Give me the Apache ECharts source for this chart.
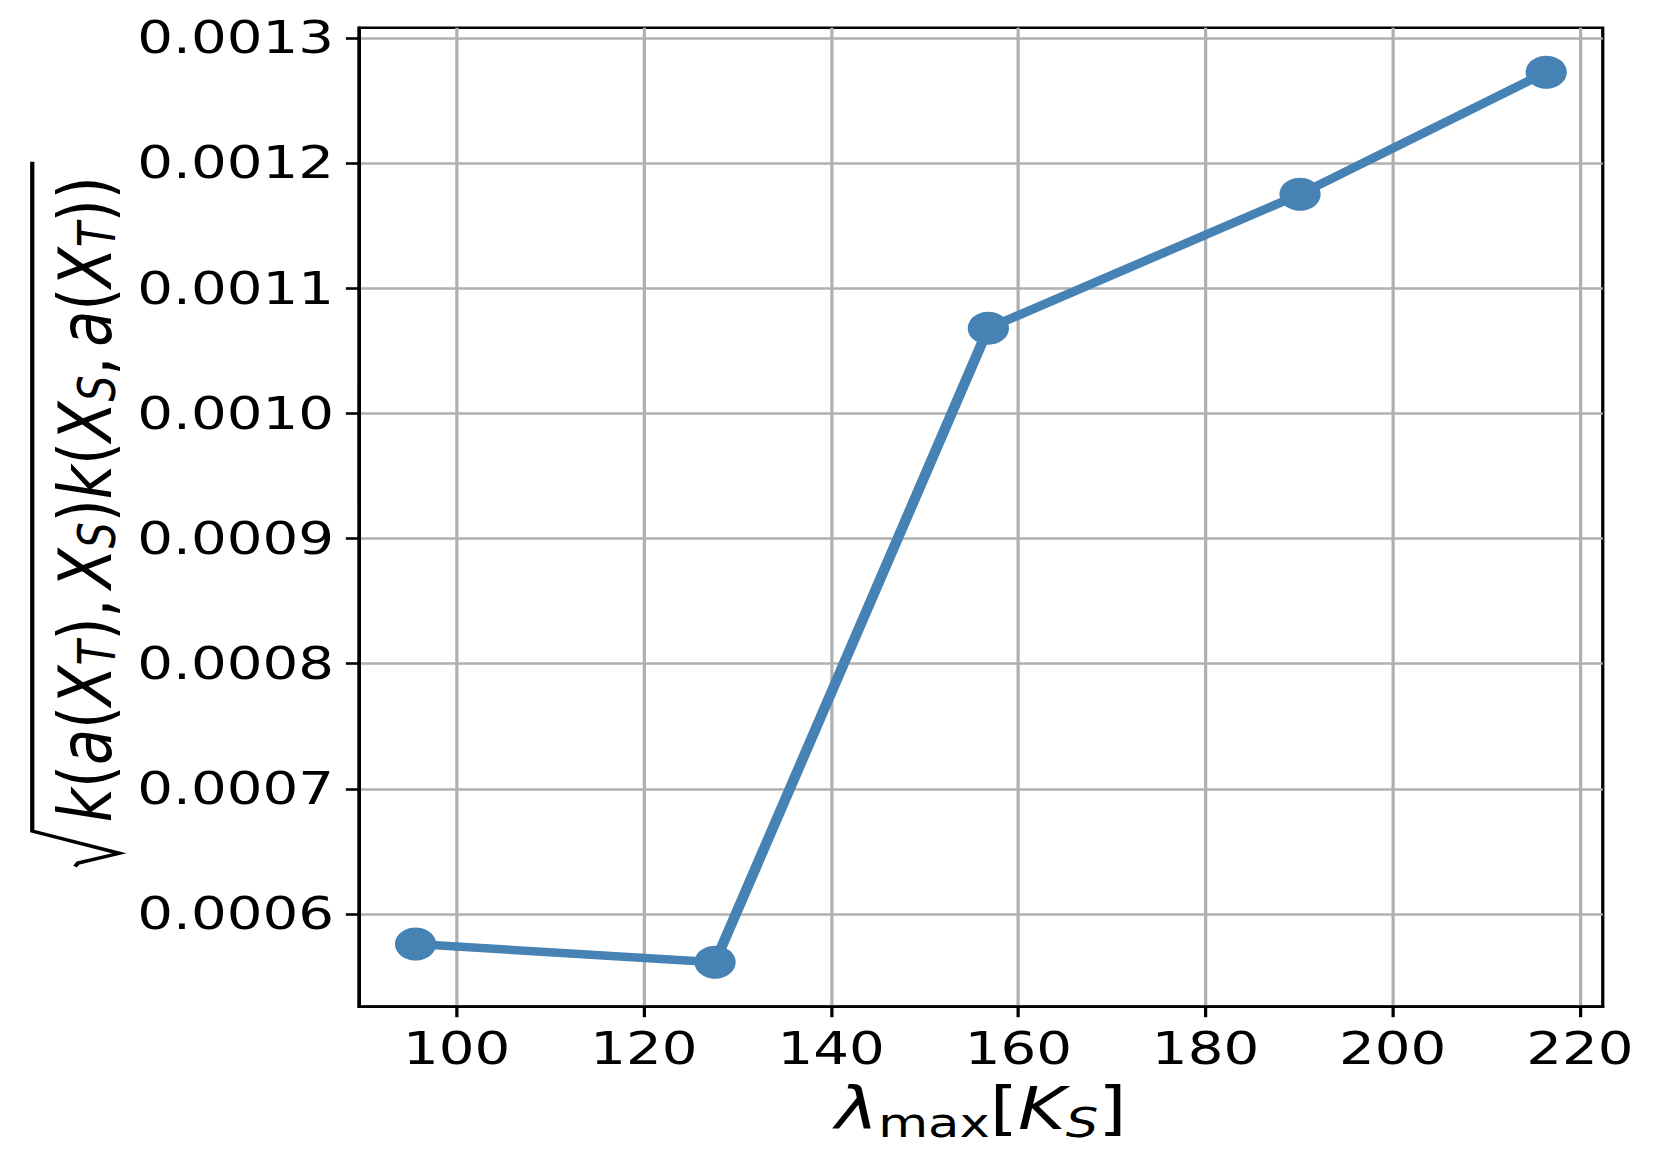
<!DOCTYPE html>
<html>
<head>
<meta charset="utf-8">
<script src="https://cdn.jsdelivr.net/npm/echarts@6/dist/echarts.min.js"></script>
<style>
html,body{margin:0;padding:0;background:#fff;overflow:hidden}
#wrap{width:1660px;height:1162px;overflow:hidden;background:#fff}
#main{width:1328px;height:1162px;transform:scaleX(1.25);transform-origin:0 0}
</style>
</head>
<body>
<div id="wrap"><div id="main"></div></div>
<script>
// data
const lambdaMax = [95.6, 127.6, 156.8, 190.1, 216.4];
const kernelValue = [0.000576, 0.0005615, 0.001068, 0.001175, 0.0012725];
const xTicks = [100, 120, 140, 160, 180, 200, 220];
const yTicks = [0.0006, 0.0007, 0.0008, 0.0009, 0.0010, 0.0011, 0.0012, 0.0013];

const seriesData = lambdaMax.map((x, i) => [x, kernelValue[i]]);
function padExtent(arr) {
  const lo = Math.min.apply(null, arr), hi = Math.max.apply(null, arr);
  const m = (hi - lo) * 0.05;
  return [lo - m, hi + m];
}
const xExt = padExtent(lambdaMax);
const yExt = padExtent(kernelValue);

const FONT = 'DejaVu Sans';
const main = {fontFamily: FONT, fontSize: 58, lineHeight: 70, color: '#000'};
const mainI = Object.assign({}, main, {fontStyle: 'italic'});
const sub = {fontFamily: FONT, fontSize: 41, lineHeight: 41, color: '#000', padding: [28, 0, 0, 0]};
const subI = Object.assign({}, sub, {fontStyle: 'italic'});

const ymain = {fontFamily: FONT, fontSize: 59, lineHeight: 72, color: '#000'};
const ymainI = Object.assign({}, ymain, {fontStyle: 'italic'});
const ysubI = {fontFamily: FONT, fontSize: 41, lineHeight: 41, color: '#000', fontStyle: 'italic', padding: [20, 0, 0, 0]};

const axisCol = '#000';
const gridCol = '#b0b0b0';

const chart = echarts.init(document.getElementById('main'), null, {renderer: 'svg'});
chart.setOption({
  backgroundColor: '#fff',
  animation: false,
  grid: {
    left: 287.2, right: 45.8, top: 27.7, bottom: 155.3,
    containLabel: false, outerBoundsMode: 'none',
    show: true, borderColor: axisCol, borderWidth: 2.6, backgroundColor: '#fff'
  },
  xAxis: {
    type: 'value', min: xExt[0], max: xExt[1],
    name: '{l|λ}{m|max}{b|[}{k|K}{s|S}{b|]}',
    nameLocation: 'middle', nameGap: 67, nameMoveOverlap: false,
    nameTextStyle: {rich: {l: mainI, m: sub, b: main, k: mainI, s: subI}},
    axisLine: {show: true, onZero: false, lineStyle: {color: axisCol, width: 2.6}},
    axisTick: {show: true, length: 10.5, lineStyle: {color: axisCol, width: 2.6}, customValues: xTicks},
    axisLabel: {customValues: xTicks, margin: 19, fontFamily: FONT, fontSize: 45, color: '#000'},
    splitLine: {show: true, lineStyle: {color: gridCol, width: 2.6}}
  },
  yAxis: {
    type: 'value', min: yExt[0], max: yExt[1],
    name: '{g| }{i|k}{r|(}{i|a}{r|(}{i|X}{s|T}{r|),}{sp| }{i|X}{s|S}{r|)}{i|k}{r|(}{i|X}{s|S}{r|,}{sp| }{i|a}{r|(}{i|X}{s|T}{r|))}',
    nameLocation: 'middle', nameGap: 183, nameMoveOverlap: false,
    nameTextStyle: {rich: {g: {width: 36, fontSize: 20, lineHeight: 20}, i: ymainI, r: ymain, s: ysubI, sp: {width: 10, fontSize: 20, lineHeight: 20}}},
    axisLine: {show: true, onZero: false, lineStyle: {color: axisCol, width: 2.6}},
    axisTick: {show: true, length: 10.5, lineStyle: {color: axisCol, width: 2.6}, customValues: yTicks},
    axisLabel: {customValues: yTicks, margin: 20, fontFamily: FONT, fontSize: 45, color: '#000',
      padding: [8, 0, 0, 0], formatter: v => Number(v).toFixed(4)},
    splitLine: {show: true, lineStyle: {color: gridCol, width: 2.6}}
  },
  graphic: [{
    type: 'polyline', silent: true,
    shape: {points: [[25.8, 161.7], [25.8, 831], [95.4, 853.3], [62.4, 863], [60, 866.5]]},
    style: {stroke: '#000', lineWidth: 3.4, fill: null, lineJoin: 'miter'}
  }],
  series: [{
    type: 'line', data: seriesData,
    symbol: 'circle', symbolSize: 33, showSymbol: true,
    itemStyle: {color: '#4682b4'},
    lineStyle: {color: '#4682b4', width: 8.5},
    z: 3
  }]
});
</script>
</body>
</html>
